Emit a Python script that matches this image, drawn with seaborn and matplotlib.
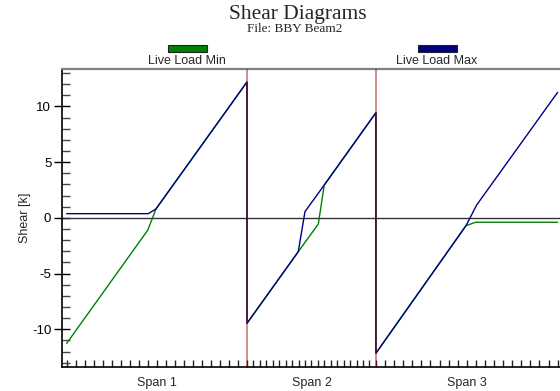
import matplotlib
matplotlib.use("Agg")
import matplotlib.pyplot as plt
from matplotlib.patches import Rectangle
from matplotlib.ticker import FixedLocator, MultipleLocator
import seaborn as sns
import pandas as pd

# ---- data (x in ft along the beam, shear in kips) ----
span_labels = ["Span 1", "Span 2", "Span 3"]
span_bounds = [0.0, 20.0, 34.3, 54.46]

min_x = [0, 9.0, 9.9, 20, 20, 25.69, 27.91, 28.57, 34.3, 34.3, 44.29, 45.37, 54.46]
min_y = [-11.26, -1.09, 0.8, 12.2, -9.46, -3.03, -0.55, 2.95, 9.44, -12.15, -0.70, -0.39, -0.39]

max_x = [0, 9.05, 9.9, 20, 20, 25.69, 26.43, 28.57, 34.3, 34.3, 44.29, 45.48, 54.46]
max_y = [0.38, 0.38, 0.8, 12.2, -9.46, -3.03, 0.56, 2.95, 9.44, -12.15, -0.70, 1.16, 11.27]

series_names = ["Live Load Min", "Live Load Max"]
series_colors = ["#008000", "#000080"]

df = pd.concat([
    pd.DataFrame({"x": min_x, "y": min_y, "series": series_names[0]}),
    pd.DataFrame({"x": max_x, "y": max_y, "series": series_names[1]}),
], ignore_index=True)

sns.set_style("ticks")
plt.rcParams["font.family"] = ["Liberation Sans", "DejaVu Sans"]
plt.rcParams["axes.unicode_minus"] = False

fig = plt.figure(figsize=(5.6, 3.91), dpi=100)
ax = fig.add_axes([61.7 / 560, 1 - 367.3 / 391, (560.7 - 61.7) / 560, (367.3 - 68.5) / 391])

sns.lineplot(data=df, x="x", y="y", hue="series", palette=dict(zip(series_names, series_colors)),
             sort=False, estimator=None, units="series", lw=1.0, ax=ax, legend=False, zorder=3)

ax.axhline(0, color="#333333", lw=1.0, zorder=2)
for b in span_bounds[1:-1]:
    ax.axvline(b, color=(0.6, 0.0, 0.0), alpha=0.45, lw=1.4, zorder=4)

ax.set_xlim(-0.555, 54.8)
ax.set_ylim(-13.41, 13.41)

# y ticks
ax.yaxis.set_major_locator(MultipleLocator(5))
ax.yaxis.set_minor_locator(MultipleLocator(1))
ax.tick_params(axis="y", which="major", direction="inout", length=11, width=1, labelsize=9.5, pad=2, colors="black")
ax.tick_params(axis="y", which="minor", direction="in", length=6, width=1, color="#444444")
ax.set_ylabel("Shear [k]", fontsize=9, labelpad=1)

# x ticks: 20 divisions per span, labels at span centres
minor = []
for a, b in zip(span_bounds[:-1], span_bounds[1:]):
    minor += [a + (b - a) * i / 20 for i in range(20)]
minor.append(span_bounds[-1])
centers = [(a + b) / 2 for a, b in zip(span_bounds[:-1], span_bounds[1:])]
ax.xaxis.remove_overlapping_locs = False
ax.xaxis.set_minor_locator(FixedLocator(minor))
ax.set_xticks(centers)
ax.set_xticklabels(span_labels)
ax.tick_params(axis="x", which="major", length=0, labelsize=9, pad=7)
ax.tick_params(axis="x", which="minor", direction="in", length=5, width=1, color="#222222")
ax.set_xlabel("")

for s in ["left", "bottom"]:
    ax.spines[s].set_color("black")
    ax.spines[s].set_linewidth(1.2)
ax.spines["top"].set_visible(True)
ax.spines["top"].set_color("#808080")
ax.spines["top"].set_linewidth(1.6)
ax.spines["right"].set_visible(False)

# titles
fig.text(298 / 560, 1 - 14 / 391, "Shear Diagrams", ha="center", va="center",
         family=["Liberation Serif", "DejaVu Serif"], fontsize=15.5)
fig.text(295 / 560, 1 - 29.5 / 391, "File: BBY Beam2", ha="center", va="center",
         family=["Liberation Serif", "DejaVu Serif"], fontsize=9.5)

# legend (patch above label)
for name, col, cx in zip(series_names, series_colors, [187, 437]):
    fig.patches.append(Rectangle(((cx - 19.5) / 560, 1 - 51.5 / 391), 39 / 560, 7 / 391,
                                 transform=fig.transFigure, facecolor=col, edgecolor="#222222", lw=0.8))
    fig.text(cx / 560, 1 - 61.5 / 391, name, ha="center", va="center", fontsize=9)

fig.savefig("out.png", dpi=100)
